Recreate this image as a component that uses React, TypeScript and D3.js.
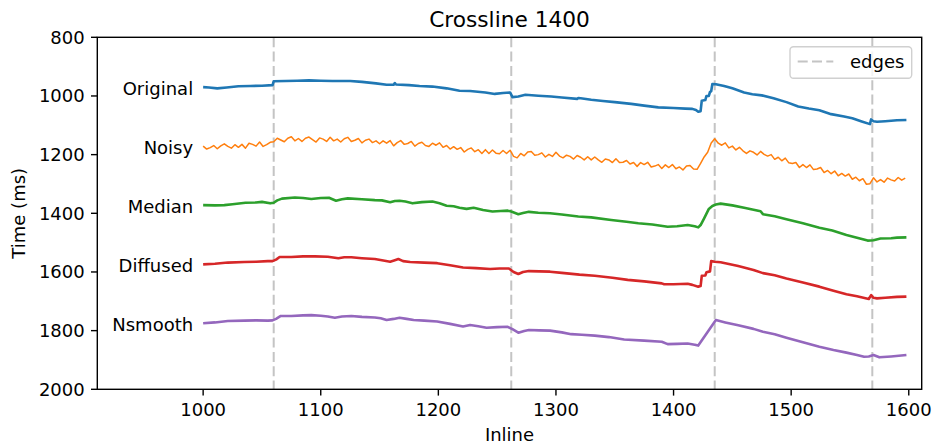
import React from "react";
import * as d3 from "d3";

type Pt = [number, number];

const TITLE = "Crossline 1400";
const X_LABEL = "Inline";
const Y_LABEL = "Time (ms)";
const X_TICKS = [1000, 1100, 1200, 1300, 1400, 1500, 1600];
const Y_TICKS = [800, 1000, 1200, 1400, 1600, 1800, 2000];
const EDGES = [1060, 1262, 1435, 1569];
const SERIES_NAMES = ["Original", "Noisy", "Median", "Diffused", "Nsmooth"];
const COLORS = ["#1f77b4", "#ff7f0e", "#2ca02c", "#d62728", "#9467bd"];

const original: Pt[] = [
  [1000, 970], [1005, 971], [1012, 974], [1020, 971], [1030, 967], [1040, 966], [1050, 965], [1059, 963],
  [1060, 950], [1070, 949], [1080, 948], [1090, 947], [1100, 948], [1110, 949], [1125, 949], [1135, 952],
  [1147, 957], [1156, 962], [1162, 962], [1163, 956], [1164, 961], [1175, 963], [1184, 966], [1195, 968],
  [1207, 974], [1218, 982], [1227, 983], [1240, 988], [1248, 993], [1255, 990], [1261, 988], [1263, 1004],
  [1268, 1002], [1274, 996], [1285, 999], [1296, 1002], [1305, 1005], [1318, 1010], [1319, 1007], [1321, 1008],
  [1330, 1013], [1340, 1017], [1350, 1021], [1364, 1027], [1375, 1033], [1387, 1039], [1400, 1041], [1410, 1043],
  [1416, 1044], [1419, 1048], [1421, 1054], [1423, 1052], [1424, 1016], [1427, 1014], [1428, 1000], [1430, 1000],
  [1431, 986], [1432, 984], [1433, 959], [1436, 960], [1443, 966], [1450, 974], [1460, 988], [1467, 994],
  [1475, 998], [1485, 1008], [1496, 1021], [1506, 1036], [1515, 1043], [1524, 1049], [1534, 1062], [1545, 1070],
  [1552, 1076], [1560, 1087], [1567, 1096], [1568, 1080], [1570, 1086], [1573, 1088], [1580, 1086], [1590, 1083],
  [1598, 1082],
];

const noisyInlines = d3.range(1000, 1600, 3);
const noisyValues = [
  1171, 1181, 1176, 1169, 1180, 1170, 1163, 1172, 1178, 1166,
  1175, 1165, 1178, 1161, 1165, 1171, 1157, 1172, 1166, 1158,
  1156, 1144, 1150, 1156, 1144, 1139, 1153, 1145, 1155, 1144,
  1140, 1149, 1157, 1143, 1147, 1155, 1141, 1153, 1147, 1157,
  1146, 1141, 1155, 1151, 1145, 1160, 1151, 1147, 1159, 1153,
  1163, 1153, 1161, 1152, 1170, 1159, 1152, 1165, 1162, 1155,
  1171, 1162, 1158, 1169, 1172, 1161, 1168, 1160, 1175, 1169,
  1181, 1173, 1182, 1176, 1191, 1182, 1177, 1190, 1183, 1196,
  1183, 1196, 1184, 1195, 1197, 1186, 1196, 1185, 1206, 1211,
  1196, 1204, 1191, 1189, 1202, 1200, 1194, 1208, 1199, 1206,
  1192, 1205, 1211, 1202, 1206, 1215, 1203, 1209, 1218, 1207,
  1218, 1208, 1218, 1226, 1215, 1218, 1227, 1214, 1227, 1226,
  1220, 1232, 1227, 1240, 1227, 1234, 1226, 1242, 1239, 1234,
  1247, 1235, 1244, 1234, 1248, 1242, 1252, 1239, 1237, 1249,
  1250, 1230, 1208, 1192, 1160, 1146, 1161, 1168, 1160, 1177,
  1171, 1184, 1175, 1187, 1196, 1187, 1192, 1201, 1189, 1199,
  1205, 1200, 1216, 1209, 1221, 1212, 1228, 1230, 1227, 1244,
  1234, 1244, 1235, 1251, 1249, 1244, 1261, 1254, 1265, 1256,
  1272, 1264, 1273, 1266, 1284, 1277, 1289, 1282, 1301, 1299,
  1279, 1293, 1285, 1294, 1280, 1286, 1290, 1278, 1287, 1280,
];
const noisy: Pt[] = noisyInlines
  .map((x, i) => [x, noisyValues[i]] as Pt)
  .filter((p) => p[1] !== undefined);

const median: Pt[] = [
  [1000, 1372], [1010, 1373], [1018, 1372], [1025, 1369], [1036, 1364], [1045, 1363], [1050, 1361], [1057, 1366],
  [1060, 1364], [1063, 1356], [1067, 1350], [1078, 1346], [1085, 1348], [1092, 1351], [1100, 1348], [1107, 1347],
  [1113, 1357], [1118, 1352], [1123, 1349], [1135, 1352], [1146, 1355], [1152, 1356], [1159, 1362], [1163, 1358],
  [1167, 1357], [1172, 1360], [1178, 1366], [1186, 1362], [1195, 1360], [1201, 1366], [1207, 1374], [1213, 1376],
  [1218, 1381], [1224, 1385], [1230, 1381], [1238, 1389], [1246, 1394], [1253, 1392], [1259, 1391], [1262, 1394],
  [1268, 1403], [1272, 1399], [1277, 1395], [1285, 1398], [1295, 1400], [1305, 1404], [1319, 1411], [1330, 1414],
  [1347, 1423], [1360, 1429], [1370, 1434], [1382, 1438], [1395, 1446], [1403, 1444], [1412, 1440], [1418, 1444],
  [1421, 1448], [1423, 1440], [1426, 1417], [1430, 1385], [1433, 1375], [1436, 1370], [1440, 1367], [1450, 1373],
  [1460, 1381], [1468, 1388], [1474, 1393], [1476, 1403], [1486, 1410], [1496, 1420], [1510, 1434], [1524, 1449],
  [1535, 1459], [1547, 1474], [1556, 1483], [1565, 1493], [1570, 1492], [1576, 1486], [1585, 1485], [1590, 1483],
  [1598, 1482],
];

const diffused: Pt[] = [
  [1000, 1574], [1010, 1572], [1021, 1568], [1035, 1566], [1045, 1565], [1055, 1563], [1059, 1563], [1062, 1558],
  [1065, 1549], [1075, 1549], [1085, 1547], [1095, 1547], [1106, 1548], [1115, 1553], [1120, 1550], [1126, 1550],
  [1135, 1553], [1146, 1556], [1152, 1560], [1159, 1565], [1163, 1560], [1166, 1556], [1170, 1563], [1176, 1566],
  [1188, 1568], [1199, 1570], [1210, 1577], [1221, 1585], [1232, 1587], [1244, 1590], [1252, 1588], [1260, 1588],
  [1264, 1600], [1268, 1607], [1272, 1600], [1277, 1597], [1286, 1598], [1295, 1599], [1305, 1603], [1320, 1609],
  [1333, 1613], [1348, 1620], [1361, 1627], [1375, 1632], [1390, 1639], [1392, 1642], [1400, 1642], [1412, 1640],
  [1416, 1644], [1421, 1650], [1423, 1648], [1424, 1613], [1427, 1612], [1428, 1601], [1431, 1598], [1432, 1563],
  [1435, 1565], [1440, 1567], [1444, 1570], [1455, 1580], [1468, 1593], [1476, 1604], [1486, 1611], [1496, 1622],
  [1510, 1636], [1524, 1650], [1536, 1664], [1547, 1676], [1556, 1683], [1566, 1692], [1568, 1679], [1570, 1688],
  [1573, 1690], [1580, 1688], [1590, 1685], [1598, 1684],
];

const nsmooth: Pt[] = [
  [1000, 1775], [1010, 1772], [1021, 1767], [1035, 1766], [1045, 1765], [1055, 1766], [1059, 1765], [1062, 1760],
  [1066, 1750], [1075, 1750], [1085, 1748], [1092, 1747], [1100, 1749], [1106, 1752], [1112, 1756], [1118, 1752],
  [1126, 1750], [1135, 1753], [1146, 1755], [1151, 1758], [1156, 1764], [1162, 1760], [1167, 1756], [1173, 1760],
  [1179, 1764], [1188, 1766], [1199, 1769], [1210, 1777], [1221, 1786], [1227, 1781], [1234, 1785], [1241, 1790],
  [1250, 1788], [1259, 1787], [1263, 1795], [1268, 1807], [1273, 1801], [1277, 1798], [1286, 1799], [1295, 1800],
  [1305, 1806], [1313, 1812], [1322, 1814], [1333, 1817], [1345, 1822], [1358, 1830], [1375, 1834], [1390, 1838],
  [1395, 1846], [1403, 1845], [1412, 1844], [1418, 1848], [1421, 1851], [1436, 1764], [1440, 1768], [1444, 1772],
  [1455, 1782], [1468, 1794], [1476, 1804], [1486, 1812], [1496, 1824], [1510, 1840], [1524, 1855], [1536, 1866],
  [1547, 1875], [1556, 1883], [1562, 1889], [1566, 1888], [1570, 1883], [1575, 1891], [1585, 1888], [1598, 1883],
];

const SERIES: Pt[][] = [original, noisy, median, diffused, nsmooth];

const W = 935;
const H = 447;
const L = 97.3;
const R = 921.7;
const T = 37.3;
const B = 389.3;
const FONT = "'DejaVu Sans', sans-serif";

export default function App() {
  const x = d3.scaleLinear().domain([910, 1611]).range([L, R]);
  const y = d3.scaleLinear().domain([800, 2000]).range([T, B]);
  const line = d3
    .line<Pt>()
    .x((d) => x(d[0]))
    .y((d) => y(d[1]));
  const tick = 6.3;

  return (
    <svg
      width={W}
      height={H}
      style={{ position: "absolute", left: 0, top: 0, background: "#fff" }}
      fontFamily={FONT}
    >
      <rect x={0} y={0} width={W} height={H} fill="#fff" />
      {EDGES.map((e) => (
        <line
          key={e}
          x1={x(e)}
          x2={x(e)}
          y1={T}
          y2={B}
          stroke="#c4c4c4"
          strokeWidth={2}
          strokeDasharray="10,4.3"
        />
      ))}
      {SERIES.map((s, i) => (
        <path
          key={SERIES_NAMES[i]}
          d={line(s) || ""}
          fill="none"
          stroke={COLORS[i]}
          strokeWidth={i === 1 ? 1.5 : 2.6}
          strokeLinejoin="round"
          strokeLinecap="butt"
        />
      ))}
      {SERIES.map((s, i) => (
        <text
          key={"lbl" + i}
          x={x(s[0][0]) - 10}
          y={y(s[0][1]) + 8}
          textAnchor="end"
          fontSize={18}
          fill="#000"
        >
          {SERIES_NAMES[i]}
        </text>
      ))}
      <rect x={L} y={T} width={R - L} height={B - T} fill="none" stroke="#000" strokeWidth={1.4} />
      {X_TICKS.map((t) => (
        <g key={"xt" + t}>
          <line x1={x(t)} x2={x(t)} y1={B} y2={B + tick} stroke="#000" strokeWidth={1.4} />
          <text x={x(t)} y={416} textAnchor="middle" fontSize={18} fill="#000">
            {t}
          </text>
        </g>
      ))}
      {Y_TICKS.map((t) => (
        <g key={"yt" + t}>
          <line x1={L - tick} x2={L} y1={y(t)} y2={y(t)} stroke="#000" strokeWidth={1.4} />
          <text x={L - tick - 6.3} y={y(t) + 6.5} textAnchor="end" fontSize={18} fill="#000">
            {t}
          </text>
        </g>
      ))}
      <text x={(L + R) / 2} y={27.3} textAnchor="middle" fontSize={21.7} fill="#000">
        {TITLE}
      </text>
      <text x={(L + R) / 2} y={440.7} textAnchor="middle" fontSize={18} fill="#000">
        {X_LABEL}
      </text>
      <text
        transform={`translate(25,${(T + B) / 2}) rotate(-90)`}
        textAnchor="middle"
        fontSize={18}
        fill="#000"
      >
        {Y_LABEL}
      </text>
      <rect
        x={790}
        y={46.7}
        width={121.7}
        height={31.6}
        rx={3.5}
        fill="#fff"
        fillOpacity={0.8}
        stroke="#d0d0d0"
        strokeWidth={1.4}
      />
      <line x1={797.7} x2={833.3} y1={61.5} y2={61.5} stroke="#c4c4c4" strokeWidth={2} strokeDasharray="10,4.3" />
      <text x={850} y={67.8} fontSize={18} fill="#000">
        edges
      </text>
    </svg>
  );
}
